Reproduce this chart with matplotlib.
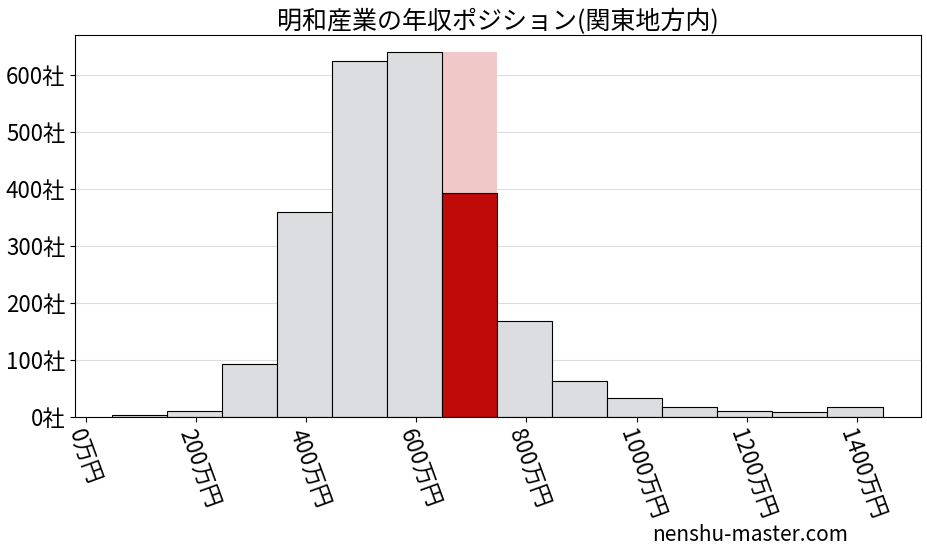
import numpy as np
import matplotlib.pyplot as plt

plt.rcParams['font.family'] = ['Noto Sans CJK JP', 'DejaVu Sans']

edges = [47, 147, 247, 347, 447, 547, 647, 747, 847, 947, 1047, 1147, 1247, 1347]
counts = [2, 10, 92, 360, 625, 640, 392, 168, 63, 33, 17, 10, 8, 17]
highlight = 6
width = 100
yticks = [0, 100, 200, 300, 400, 500, 600]
xticks = [0, 200, 400, 600, 800, 1000, 1200, 1400]

fig, ax = plt.subplots(figsize=(9.27, 5.57), dpi=100)
fig.subplots_adjust(left=0.081, right=0.993, top=0.937, bottom=0.252)
for i, (e, c) in enumerate(zip(edges, counts)):
    if i == highlight:
        ax.bar(e, max(counts), width=width, align='edge', color='#f0c8c8', zorder=1)
        ax.bar(e, c, width=width, align='edge', color='#c00a0a', edgecolor='black', linewidth=0.8, zorder=2)
    else:
        ax.bar(e, c, width=width, align='edge', color='#dcdde0', edgecolor='black', linewidth=0.8, zorder=2)
ax.set_xlim(-20, 1516)
ax.set_ylim(0, 670)
ax.set_yticks(yticks)
ax.set_yticklabels([f'{v}社' for v in yticks], fontsize=16)
ax.set_xticks(xticks)
ax.set_xticklabels([f'{v}万円' for v in xticks], fontsize=16, rotation=-70, ha='left', va='top', rotation_mode='anchor')
ax.grid(axis='y', color='#dddddd', linewidth=0.8, zorder=0)
ax.set_axisbelow(True)
ax.set_title('明和産業の年収ポジション(関東地方内)', fontsize=18, pad=4)
fig.text(0.915, 0.02, 'nenshu-master.com', fontsize=15, ha='right', va='bottom')
fig.savefig('out.png')
